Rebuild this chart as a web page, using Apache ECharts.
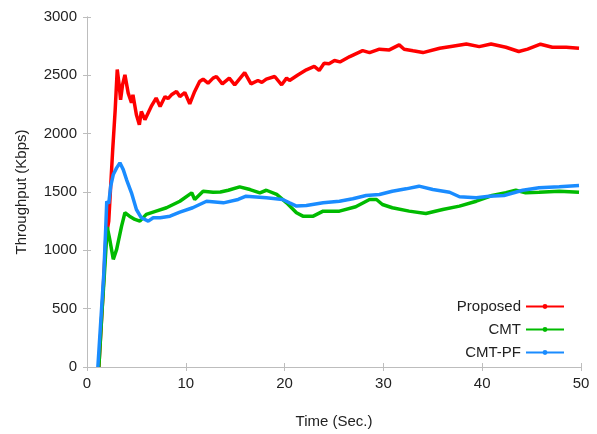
<!DOCTYPE html>
<html>
<head>
<meta charset="utf-8">
<script src="https://cdn.jsdelivr.net/npm/echarts@6/dist/echarts.min.js"></script>
<style>
  html, body { margin: 0; padding: 0; background: #fff; }
  #main { width: 597px; height: 434px; }
</style>
</head>
<body>
<div id="main"></div>
<script>
// series names, as in the legend
const seriesNames = ['Proposed', 'CMT', 'CMT-PF'];
const seriesColors = ['#ff0000', '#00bb00', '#1a8cff'];

// Proposed (red): time (s) / throughput (Kbps)
const proposedT = [1.2, 1.6, 1.9, 2.2, 2.6, 2.85, 3.06, 3.25, 3.4, 3.6, 3.84, 4.17, 4.5, 4.65, 5.0, 5.3, 5.5, 5.86, 6.2, 6.5, 7.0, 7.4, 7.9, 8.2, 8.55, 9.06, 9.4, 9.9, 10.4, 10.9, 11.4, 11.75, 12.25, 12.76, 13.1, 13.7, 14.4, 14.95, 15.96, 16.6, 17.3, 17.7, 18.15, 19.0, 19.7, 20.2, 20.5, 21.3, 22.2, 23.0, 23.5, 24.0, 24.5, 25.05, 25.6, 26.6, 27.9, 28.6, 29.6, 30.6, 31.6, 32.1, 33.0, 34.0, 35.7, 37.0, 38.4, 39.7, 40.9, 42.4, 43.7, 44.6, 45.9, 47.1, 48.5, 49.8];
const proposedV = [0, 600, 1100, 1250, 1860, 2200, 2550, 2420, 2290, 2420, 2504, 2348, 2265, 2333, 2162, 2077, 2190, 2120, 2180, 2233, 2305, 2233, 2318, 2300, 2333, 2362, 2318, 2353, 2256, 2362, 2447, 2467, 2433, 2476, 2490, 2427, 2476, 2419, 2524, 2427, 2456, 2440, 2467, 2490, 2419, 2476, 2456, 2500, 2547, 2576, 2542, 2604, 2600, 2627, 2615, 2661, 2712, 2695, 2724, 2718, 2761, 2724, 2710, 2695, 2732, 2750, 2769, 2746, 2769, 2741, 2704, 2725, 2767, 2741, 2740, 2732];

// CMT (green)
const cmtT = [1.2, 1.5, 1.8, 2.05, 2.3, 2.66, 3.0, 3.5, 3.84, 4.3, 4.85, 5.35, 6.0, 7.0, 8.05, 9.4, 10.6, 10.9, 11.75, 12.76, 13.5, 14.3, 15.45, 16.5, 17.5, 18.15, 19.2, 20.2, 21.2, 21.85, 22.9, 23.9, 25.55, 27.2, 28.6, 29.3, 29.9, 30.9, 32.6, 34.3, 36.0, 37.7, 39.4, 41.0, 42.4, 43.4, 44.4, 45.75, 47.8, 49.8];
const cmtV = [0, 450, 850, 1200, 1094, 923, 1008, 1208, 1322, 1293, 1265, 1250, 1308, 1336, 1365, 1421, 1493, 1436, 1507, 1498, 1500, 1515, 1544, 1521, 1493, 1515, 1479, 1407, 1322, 1293, 1293, 1336, 1336, 1373, 1436, 1436, 1393, 1365, 1336, 1316, 1350, 1379, 1421, 1470, 1493, 1515, 1493, 1498, 1507, 1498];

// CMT-PF (blue)
const cmtpfT = [1.1, 1.4, 1.7, 1.9, 2.0, 2.2, 2.4, 2.66, 3.0, 3.33, 3.67, 4.0, 4.5, 5.0, 5.5, 6.2, 6.7, 7.4, 8.4, 9.4, 10.7, 12.1, 13.8, 15.3, 16.1, 18.15, 19.8, 20.5, 21.2, 22.2, 23.9, 25.55, 26.9, 28.25, 29.6, 30.9, 32.3, 33.6, 35.0, 36.7, 37.7, 39.4, 40.7, 42.2, 44.1, 45.75, 47.8, 49.8];
const cmtpfV = [0, 400, 800, 1200, 1420, 1400, 1550, 1650, 1707, 1750, 1692, 1607, 1493, 1350, 1279, 1250, 1279, 1279, 1293, 1327, 1365, 1421, 1407, 1436, 1464, 1450, 1436, 1407, 1379, 1385, 1407, 1421, 1442, 1470, 1479, 1507, 1527, 1550, 1521, 1498, 1459, 1450, 1464, 1470, 1515, 1536, 1544, 1555];

const xTicks = [0, 10, 20, 30, 40, 50];
const yTicks = [0, 500, 1000, 1500, 2000, 2500, 3000];

const times = [proposedT, cmtT, cmtpfT];
const values = [proposedV, cmtV, cmtpfV];

const font = '"Liberation Sans", Arial, sans-serif';
const frameColor = '#bdbdbd';
const textColor = '#222';

function pairs(t, v) {
  return t.map((x, i) => [x, v[i]]);
}

const chart = echarts.init(document.getElementById('main'), null, { renderer: 'canvas' });

const hiddenAxisCommon = {
  axisLine: { show: true, lineStyle: { color: frameColor, width: 1 } },
  axisTick: { show: true, inside: true, length: 4, lineStyle: { color: frameColor } },
  axisLabel: { show: false },
  splitLine: { show: false }
};

const option = {
  animation: false,
  backgroundColor: '#fff',
  textStyle: { fontFamily: font },
  grid: { left: 87, right: 16, top: 17, bottom: 66, containLabel: false },
  legend: {
    data: seriesNames,
    orient: 'vertical',
    right: 27,
    top: 294,
    align: 'right',
    itemWidth: 38,
    itemHeight: 6,
    itemGap: 8,
    textStyle: { fontFamily: font, fontSize: 15, color: textColor }
  },
  xAxis: [
    {
      type: 'value',
      min: xTicks[0],
      max: xTicks[xTicks.length - 1],
      interval: 10,
      name: 'Time (Sec.)',
      nameLocation: 'middle',
      nameGap: 47,
      nameTextStyle: { fontFamily: font, fontSize: 15, color: textColor },
      axisLine: { show: true, lineStyle: { color: frameColor, width: 1 } },
      axisTick: { show: true, inside: true, length: 4, lineStyle: { color: frameColor } },
      axisLabel: { fontFamily: font, fontSize: 15, color: textColor, margin: 9, formatter: v => String(v) },
      splitLine: { show: false }
    },
    Object.assign({ type: 'value', position: 'top', min: 0, max: 50, interval: 10 }, hiddenAxisCommon)
  ],
  yAxis: [
    {
      type: 'value',
      min: yTicks[0],
      max: yTicks[yTicks.length - 1],
      interval: 500,
      name: 'Throughput (Kbps)',
      nameLocation: 'middle',
      nameGap: 58,
      nameRotate: 90,
      nameTextStyle: { fontFamily: font, fontSize: 15, color: textColor },
      axisLine: { show: true, lineStyle: { color: frameColor, width: 1 } },
      axisTick: { show: true, inside: true, length: 4, lineStyle: { color: frameColor } },
      axisLabel: { fontFamily: font, fontSize: 15, color: textColor, margin: 10, formatter: v => String(v) },
      splitLine: { show: false }
    },
    Object.assign({ type: 'value', position: 'right', min: 0, max: 3000, interval: 500 }, hiddenAxisCommon)
  ],
  series: seriesNames.map((name, i) => ({
    name: name,
    type: 'line',
    data: pairs(times[i], values[i]),
    color: seriesColors[i],
    symbol: 'circle',
    symbolSize: 5,
    showSymbol: false,
    smooth: false,
    lineStyle: { width: 3.5, color: seriesColors[i] },
    z: 2 + i
  }))
};

chart.setOption(option);
</script>
</body>
</html>
